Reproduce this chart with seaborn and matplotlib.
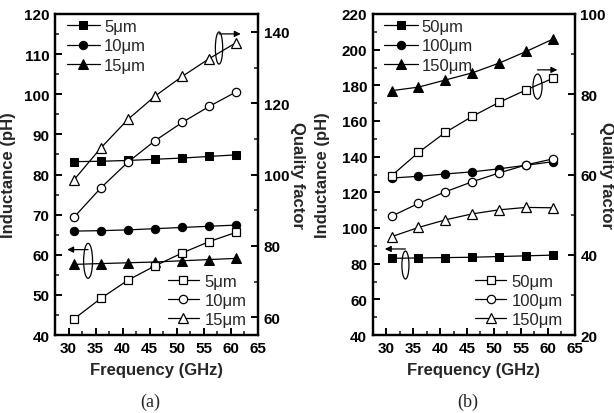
import matplotlib
matplotlib.use("Agg")
import matplotlib.pyplot as plt
import seaborn as sns
import pandas as pd
from matplotlib.patches import Ellipse
from matplotlib.ticker import MultipleLocator

sns.set_style("ticks")
plt.rcParams['font.family'] = ['Liberation Sans', 'DejaVu Sans']
plt.rcParams['mathtext.default'] = 'regular'

freq = [31, 36, 41, 46, 51, 56, 61]

# Panel (a): widths
labels_a = ["5\u03bcm", "10\u03bcm", "15\u03bcm"]
L_a_5 = [83.2, 83.3, 83.5, 83.8, 84.1, 84.5, 84.9]
L_a_10 = [65.9, 66.0, 66.2, 66.5, 66.8, 67.1, 67.4]
L_a_15 = [57.6, 57.8, 58.0, 58.2, 58.5, 58.8, 59.1]
Q_a_5 = [59.5, 65.3, 70.4, 74.4, 78.0, 81.2, 83.8]
Q_a_10 = [88.0, 96.3, 103.5, 109.5, 114.6, 119.1, 123.2]
Q_a_15 = [98.5, 107.5, 115.5, 122.0, 127.5, 132.5, 137.0]

# Panel (b): lengths
labels_b = ["50\u03bcm", "100\u03bcm", "150\u03bcm"]
L_b_50 = [83.0, 83.2, 83.4, 83.6, 84.0, 84.4, 84.8]
L_b_100 = [128.0, 129.0, 130.3, 131.5, 133.2, 135.2, 137.2]
L_b_150 = [177.0, 179.0, 183.0, 187.0, 192.5, 199.0, 206.0]
Q_b_50 = [59.7, 65.5, 70.5, 74.5, 78.0, 81.1, 84.0]
Q_b_100 = [49.6, 52.8, 55.7, 58.2, 60.4, 62.4, 63.9]
Q_b_150 = [44.5, 46.8, 48.7, 50.2, 51.2, 51.8, 51.7]

markers = ["s", "o", "^"]
W, H = 614, 414
fig = plt.figure(figsize=(W / 100, H / 100), dpi=100)

FS = 11


def style_axis(ax):
    for s in ax.spines.values():
        s.set_linewidth(1.6)
        s.set_color('k')
    ax.tick_params(axis='both', which='major', direction='in', length=5, width=1.4,
                   labelsize=FS, colors='k', pad=4)
    ax.tick_params(axis='both', which='minor', direction='in', length=3, width=1.2)
    for t in ax.get_xticklabels() + ax.get_yticklabels():
        t.set_fontweight('bold')


def panel(rect, Ls, Qs, labels, ylimL, stepL, ylimQ, stepQ, ell_up, ell_dn, tag,
          lab_left_x, lab_right_x):
    ax = fig.add_axes(rect)
    ax2 = ax.twinx()
    hL, hQ = [], []
    for L, Q, lab, m in zip(Ls, Qs, labels, markers):
        df = pd.DataFrame({"f": freq, "L": L, "Q": Q})
        ms = 6.5 if m == '^' else 6
        sns.lineplot(data=df, x="f", y="L", ax=ax, color='k', lw=0.9, marker=m,
                     markersize=ms, markerfacecolor='k',
                     markeredgecolor='k', label=lab, legend=False)
        hL.append(ax.lines[-1])
        sns.lineplot(data=df, x="f", y="Q", ax=ax2, color='k', lw=0.9, marker=m,
                     markersize=ms, markerfacecolor='white',
                     markeredgecolor='k', markeredgewidth=0.9, label=lab, legend=False)
        hQ.append(ax2.lines[-1])
    ax.set_xlim(27.5, 65)
    ax.set_ylim(*ylimL)
    ax2.set_ylim(*ylimQ)
    ax.xaxis.set_major_locator(MultipleLocator(5))
    ax.xaxis.set_minor_locator(MultipleLocator(2.5))
    ax.yaxis.set_major_locator(MultipleLocator(stepL))
    ax.yaxis.set_minor_locator(MultipleLocator(stepL / 2))
    ax2.yaxis.set_major_locator(MultipleLocator(stepQ))
    ax2.yaxis.set_minor_locator(MultipleLocator(stepQ / 2))
    ax.tick_params(top=False, right=False, which='both')
    ax2.tick_params(left=False, right=True, which='both')
    style_axis(ax)
    style_axis(ax2)
    ax.set_xlabel("Frequency (GHz)", fontsize=FS + 1, fontweight='bold', labelpad=5)
    ax.set_ylabel("Inductance (pH)", fontsize=FS + 1, fontweight='bold')
    ax.yaxis.set_label_coords(lab_left_x, 0.5)
    ax2.set_ylabel("Quality factor", fontsize=FS + 1, fontweight='bold', rotation=-90,
                   va='center')
    ax2.yaxis.set_label_coords(lab_right_x, 0.5)
    leg1 = ax2.legend(hL, labels, loc='upper left', bbox_to_anchor=(0.0, 1.02),
                      frameon=False, fontsize=FS + 1, handlelength=2.0,
                      handletextpad=0.25, labelspacing=0.25, borderaxespad=0.3)
    ax2.add_artist(leg1)
    ax2.legend(hQ, labels, loc='lower right', bbox_to_anchor=(1.0, -0.01),
               frameon=False, fontsize=FS + 1, handlelength=1.85,
               handletextpad=0.35, labelspacing=0.22, borderaxespad=0.3)
    # ellipse + arrow annotations (axes fraction)
    for (cx, cy, w, h, ay, ax_end) in (ell_up, ell_dn):
        ax2.add_patch(Ellipse((cx, cy), w, h, transform=ax2.transAxes, fill=False,
                              edgecolor='k', lw=0.9, zorder=5))
        ax2.annotate("", xy=(ax_end, ay), xytext=(cx, ay), xycoords='axes fraction',
                     arrowprops=dict(arrowstyle='-|>', color='k', lw=0.9,
                                     mutation_scale=9, shrinkA=0, shrinkB=0))
    fig.text(rect[0] + rect[2] / 2 - 0.01, 1 - 402 / H, tag, ha='center', va='center',
             fontsize=FS + 2, family='Liberation Serif')
    return ax, ax2


panel([55 / W, 1 - 336 / H, 203 / W, 321 / H],
      [L_a_5, L_a_10, L_a_15], [Q_a_5, Q_a_10, Q_a_15], labels_a,
      (40, 120), 10, (55, 145), 20,
      (0.808, 0.894, 0.036, 0.10, 0.938, 0.915),
      (0.163, 0.231, 0.044, 0.109, 0.266, 0.06), "(a)",
      -0.19, 1.197)

panel([372.7 / W, 1 - 336 / H, 202 / W, 321 / H],
      [L_b_50, L_b_100, L_b_150], [Q_b_50, Q_b_100, Q_b_150], labels_b,
      (40, 220), 20, (20, 100), 20,
      (0.816, 0.774, 0.045, 0.078, 0.826, 0.914),
      (0.162, 0.218, 0.035, 0.087, 0.268, 0.06), "(b)",
      -0.21, 1.155)

fig.savefig("out.png", dpi=100)
